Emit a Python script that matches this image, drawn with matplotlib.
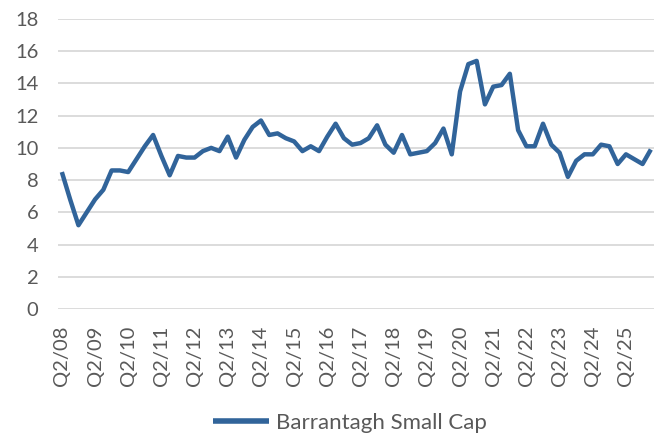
import matplotlib
matplotlib.use("Agg")
import matplotlib.pyplot as plt

values = [8.5, 6.8, 5.2, 6.0, 6.8, 7.4, 8.6, 8.6, 8.5, 9.3, 10.1, 10.8,
          9.5, 8.3, 9.5, 9.4, 9.4, 9.8, 10.0, 9.8, 10.7, 9.4, 10.5, 11.3,
          11.7, 10.8, 10.9, 10.6, 10.4, 9.8, 10.1, 9.8, 10.7, 11.5, 10.6, 10.2,
          10.3, 10.6, 11.4, 10.2, 9.7, 10.8, 9.6, 9.7, 9.8, 10.3, 11.2, 9.6,
          13.5, 15.2, 15.4, 12.7, 13.8, 13.9, 14.6, 11.1, 10.1, 10.1, 11.5, 10.2,
          9.7, 8.2, 9.2, 9.6, 9.6, 10.2, 10.1, 9.0, 9.6, 9.3, 9.0, 9.9]
start_year = 8
categories = []
for i in range(len(values)):
    q = (1 + i) % 4 + 1
    y = start_year + (1 + i) // 4
    categories.append(f"Q{q}/{y:02d}")
series_name = "Barrantagh Small Cap"
y_ticks = list(range(0, 20, 2))

plt.rcParams['font.family'] = ['Lato', 'DejaVu Sans']
fig = plt.figure(figsize=(6.54, 4.38), dpi=100)
ax = fig.add_axes([57.7/654, 1-309/438, (655-57.7)/654, (309-19)/438])
x = list(range(len(values)))
ax.plot(x, values, color='#31649a', lw=3.2, solid_joinstyle='round', solid_capstyle='butt',
        label=series_name, clip_on=True)
ax.set_xlim(-0.5, len(values) - 0.5)
ax.set_ylim(0, 18)
ax.set_yticks(y_ticks)
ax.set_yticklabels([str(t) for t in y_ticks])
ticks = [i for i, c in enumerate(categories) if c.startswith("Q2/")]
ax.set_xticks(ticks)
ax.set_xticklabels([categories[i] for i in ticks], rotation=90)
ax.grid(axis='y', color='#d9d9d9', lw=1.3)
ax.set_axisbelow(True)
for s in ax.spines.values():
    s.set_visible(False)
ax.tick_params(axis='both', length=0, labelcolor='#595959', labelsize=14.5)
ax.tick_params(axis='y', pad=14)
ax.tick_params(axis='x', pad=12)
leg = fig.legend(loc='center', bbox_to_anchor=(350/654, 1-423/438), frameon=False,
                 fontsize=16, handlelength=2.5, handletextpad=0.3, labelcolor='#595959')
for h in leg.get_lines():
    h.set_linewidth(4)
fig.savefig("out.png", dpi=100)
